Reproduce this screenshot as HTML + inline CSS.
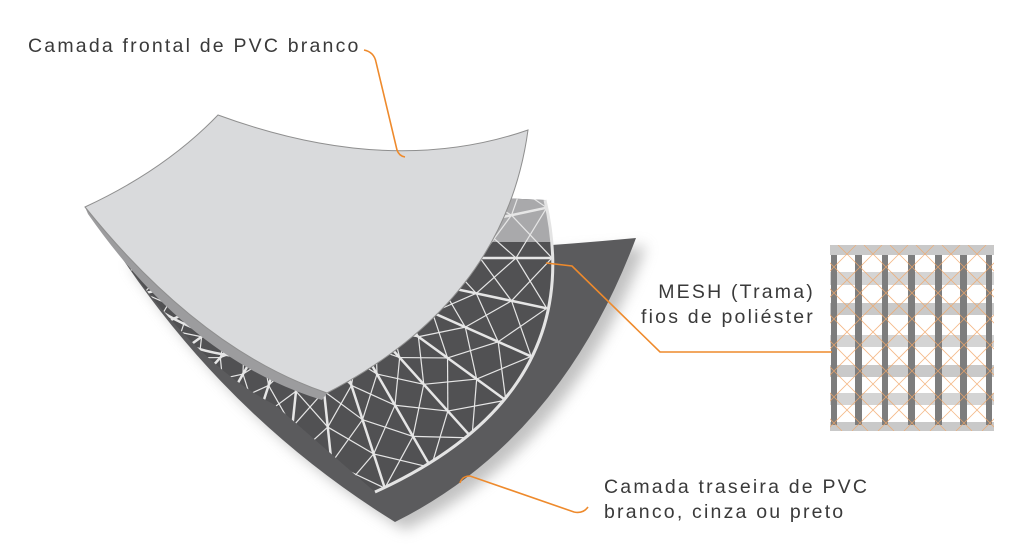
<!DOCTYPE html>
<html><head><meta charset="utf-8"><style>
html,body{margin:0;padding:0;background:#fff;width:1024px;height:554px;overflow:hidden}
svg{display:block}
text{font-family:"Liberation Sans",sans-serif;font-size:19.5px;letter-spacing:2.2px;fill:#3a3a3a}
</style></head><body>
<svg id="s" width="1024" height="554" viewBox="0 0 1024 554">
<defs>
<filter id="sh" x="-20%" y="-20%" width="140%" height="140%"><feGaussianBlur stdDeviation="7"/></filter>
<clipPath id="mc"><path d="M498,198 L545,200 Q590,394 375,492 L275,405 Q190,362 100,226 Z"/></clipPath>
<clipPath id="bx"><rect x="830" y="245" width="164" height="186"/></clipPath>
</defs>
<path d="M646,246 Q570,450 405,530 Q240,428 130,263 Q390,268 646,246 Z" fill="#999" filter="url(#sh)" opacity="0.6"/>
<path d="M636,238 Q560,440 395,522 Q230,420 120,255 Q380,262 636,238 Z" fill="#5b5b5d"/>
<g clip-path="url(#mc)">
<rect x="100" y="180" width="500" height="330" fill="#515153"/>
<rect x="460" y="180" width="100" height="62" fill="#a9a9ab"/>
<g id="mesh" stroke="#e6e6e6" fill="none"></g>
</g>
<path d="M545,200 Q590,394 375,492" stroke="#e4e4e4" stroke-width="3" fill="none"/>
<path d="M85,207 Q200,350 327,393 L322,400 Q190,360 88,214 Z" fill="#9c9c9e"/>
<path d="M218,115 Q390,178 528,130 Q505,300 327,393 Q200,350 85,207 Q165,170 218,115 Z" fill="#d9dadc" stroke="#8f8f8f" stroke-width="1"/>
<g>
<rect x="830" y="245" width="164" height="186" fill="#fff"/>
<g fill="#c9c9c9">
<rect x="830" y="245" width="164" height="10"/>
<rect x="830" y="272" width="164" height="13" opacity="0.8"/>
<rect x="830" y="303" width="164" height="12"/>
<rect x="830" y="335" width="164" height="12" opacity="0.8"/>
<rect x="830" y="365" width="164" height="12"/>
<rect x="830" y="393" width="164" height="12" opacity="0.8"/>
<rect x="830" y="422" width="164" height="9"/>
</g>
<g fill="#7d7d7d">
<rect x="831" y="255" width="6" height="170"/>
<rect x="855" y="255" width="7" height="170"/>
<rect x="882" y="255" width="6" height="170"/>
<rect x="908" y="255" width="7" height="170"/>
<rect x="935" y="255" width="7" height="170"/>
<rect x="960" y="255" width="7" height="170"/>
<rect x="986" y="255" width="6" height="170"/>
</g>
<g id="ox" stroke="#f2a86a" stroke-width="0.8" opacity="0.8" clip-path="url(#bx)"></g>
</g>
<g stroke="#ee8a2c" stroke-width="1.6" fill="none">
<path d="M364,50 Q374,52 376,62 L397,150 Q399,156 405,157"/>
<path d="M546,263 L572,266 L660,352 L832,352"/>
<path d="M460,483 Q462,476 470,476 L574,512 Q583,514 588,507"/>
</g>
<text x="28" y="52">Camada frontal de PVC branco</text>
<text x="815" y="298" text-anchor="end">MESH (Trama)</text>
<text x="815" y="323" text-anchor="end">fios de poliéster</text>
<text x="604" y="493">Camada traseira de PVC</text>
<text x="604" y="518">branco, cinza ou preto</text>
</svg>
<script>
var NS="http://www.w3.org/2000/svg";
var m=document.getElementById("mesh"),cx=310,cy=258;
function P(r,a){a=a*Math.PI/180;return [cx+r*Math.cos(a),cy+r*Math.sin(a)];}
function L(g,a,b,w){var l=document.createElementNS(NS,"line");l.setAttribute("x1",a[0]);l.setAttribute("y1",a[1]);l.setAttribute("x2",b[0]);l.setAttribute("y2",b[1]);l.setAttribute("stroke-width",w);g.appendChild(l);}
var R=[],A=[];for(var i=0;i<7;i++)R.push(242-36*i);for(var a=-36;a<=180;a+=12)A.push(a);
for(var i=0;i<R.length;i++){var p=document.createElementNS(NS,"path");var a0=P(R[i],A[0]),a1=P(R[i],A[A.length-1]);p.setAttribute("d","M"+a0+" A"+R[i]+" "+R[i]+" 0 0 1 "+a1);p.setAttribute("stroke-width","2.5");m.appendChild(p);}
for(var j=0;j<A.length;j++)L(m,P(R[R.length-1],A[j]),P(R[0],A[j]),2.5);
for(var i=0;i<R.length-1;i++)for(var j=0;j<A.length-1;j++){L(m,P(R[i],A[j]),P(R[i+1],A[j+1]),1.2);L(m,P(R[i],A[j+1]),P(R[i+1],A[j]),1.2);}
var o=document.getElementById("ox");
for(var k=-200;k<200;k+=26){L(o,[830+k,245],[830+k+186,431],0.8);L(o,[994-k,245],[994-k-186,431],0.8);}
</script>
</body></html>
